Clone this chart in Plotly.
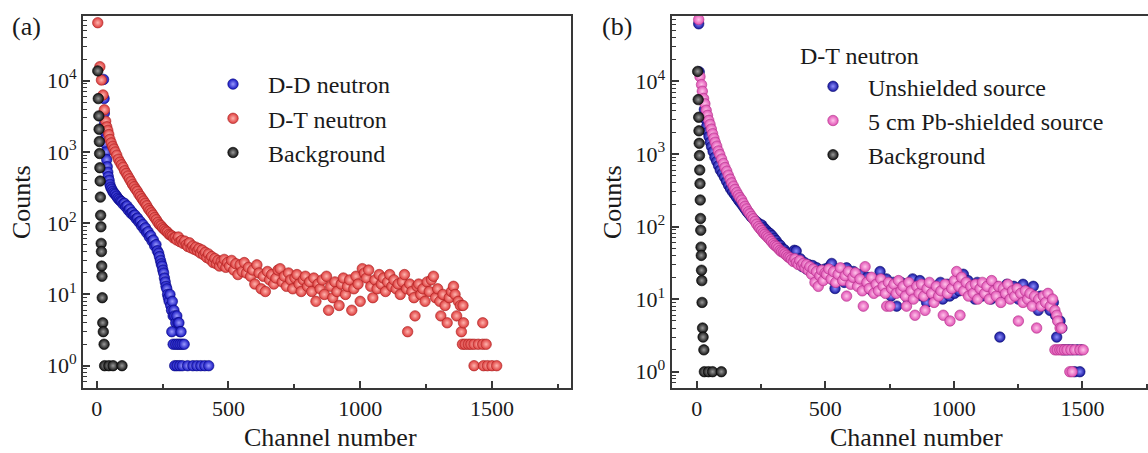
import plotly.graph_objects as go

# ---------------- data ----------------
# Background (same measurement shown in both panels)
bg_ch = [4, 6, 8, 9, 10, 11, 12, 13, 14, 15, 16, 17, 18, 19, 20, 21, 23, 25, 28, 30, 46, 62, 96]
bg_cnt = [13700, 5600, 3200, 2080, 1400, 950, 600, 390, 232, 129, 89, 52, 40, 25, 18, 9, 4, 3, 2, 1, 1, 1, 1]

# Panel (a) D-D neutron
dd_ch = [26, 28, 29, 30, 31, 32, 34, 36, 38, 40, 42, 44, 47, 50, 53, 57, 61, 65, 70, 75,
         80, 85, 90, 95, 100, 105, 110, 115, 120, 125, 130, 135, 140, 145, 150, 155, 160, 165, 170, 175,
         180, 185, 190, 195, 200, 205, 210, 215, 220, 225, 230, 235, 238, 242, 245, 248, 251, 254, 257, 260,
         263, 266, 269, 272, 275, 278, 281, 284, 287, 290, 293, 296, 300, 304, 308, 312, 316, 285, 320,
         290, 300, 308, 316, 324, 332,
         296, 305, 315, 325, 345, 365, 380, 395, 410, 425]
dd_cnt = [10400, 5600, 3500, 2500, 1900, 1500, 1300, 1000, 780, 620, 520, 450, 400, 350, 320, 300, 280, 265, 255, 240,
          225, 215, 205, 200, 185, 190, 170, 175, 152, 158, 138, 142, 128, 130, 115, 118, 104, 106, 92, 96,
          82, 86, 73, 76, 64, 67, 56, 58, 48, 50, 41, 38, 34, 30, 27, 25, 22, 20, 17, 15,
          13, 12, 10, 9, 8, 10, 7, 6, 8, 5, 6, 5, 4, 5, 4, 4, 3, 3, 3,
          2, 2, 2, 2, 2, 2,
          1, 1, 1, 1, 1, 1, 1, 1, 1, 1]

# Panel (a) D-T neutron
dt_ch = [4, 12, 18, 24, 29, 34, 38, 42, 46, 50, 55, 60, 65, 70, 76, 82, 88, 94, 100,
         106, 112, 118, 124, 130, 136, 142, 148, 154, 160, 166, 172, 178, 184, 190, 196, 202, 208, 214, 220,
         226, 232, 238, 244, 250, 256, 262, 268, 274, 280, 286, 292, 298,
         304, 310, 316, 322, 328, 334, 340, 346, 352, 358, 364, 370, 376, 382, 388, 394, 400, 406, 412, 418,
         424, 430, 436, 442, 448, 454, 460, 466, 472, 478, 484, 490, 496,
         504, 512, 520, 528, 536, 544, 552, 560, 568, 576, 584, 592, 600, 608, 616, 624, 632, 640, 648, 656,
         664, 672, 680, 688, 696, 704, 712, 720, 728, 736, 744, 752, 760, 768, 776, 784, 792, 800, 808, 816,
         824, 832, 840, 848, 856, 864, 872, 880, 888, 896, 904, 912, 920, 928, 936, 944, 952, 960, 968, 976,
         984, 992, 1000, 1008, 1016, 1024, 1032, 1040, 1048, 1056, 1064, 1072, 1080, 1088, 1096, 1104, 1112,
         1120, 1128, 1136, 1144, 1152, 1160, 1168, 1176, 1180, 1188, 1196, 1204, 1208, 1216, 1222, 1230, 1238,
         1246, 1254, 1262, 1270, 1278, 1286, 1294, 1302, 1306, 1314, 1322, 1330, 1338, 1346, 1354, 1360, 1366,
         1372, 1380, 1384, 1390, 1392,
         1388, 1398, 1410, 1420, 1432, 1448, 1465, 1478, 1465,
         1432, 1468, 1483, 1500, 1518]
dt_cnt = [65000, 15700, 10200, 6300, 3900, 2700, 2250, 2000, 1750, 1500, 1340, 1200, 1100, 1000, 900, 790, 720, 660, 610,
          545, 500, 460, 420, 385, 350, 325, 300, 280, 255, 238, 220, 205, 190, 176, 160, 150, 140, 130, 120,
          112, 103, 96, 92, 86, 82, 78, 75, 70, 68, 66, 62, 63,
          58, 64, 55, 57, 52, 56, 50, 47, 53, 45, 48, 43, 46, 41, 44, 38, 42, 36, 39, 33,
          37, 31, 34, 28, 32, 27, 30, 25, 29, 26, 31, 24, 28,
          25, 30, 22, 27, 19, 26, 21, 28, 20, 24, 18, 22, 14, 26, 20, 12, 18, 11, 21, 16,
          19, 14, 17, 22, 23, 15, 18, 13, 20, 16, 12, 17, 19, 14, 11, 16, 18, 13, 15, 11,
          17, 8, 14, 12, 16, 10, 18, 6, 13, 9, 15, 11, 7, 14, 17, 10, 13, 16, 6, 12,
          18, 14, 8, 23, 20, 17, 22, 13, 9, 16, 12, 19, 14, 17, 11, 15, 19,
          13, 16, 12, 14, 10, 15, 19, 12, 3, 14, 11, 9, 5, 13, 14, 10, 12,
          8, 15, 11, 16, 18, 9, 12, 8, 5, 10, 7, 4, 9, 11, 13, 10, 5,
          8, 7, 3, 7, 4,
          2, 2, 2, 2, 2, 2, 2, 2, 4,
          1, 1, 1, 1, 1]

# Panel (b) D-T neutron, unshielded source
un_ch = [8, 10, 30, 35, 39, 44, 48, 53, 58, 64, 71, 78, 85, 92, 100, 108, 116, 124, 132, 140,
         148, 156, 164, 172, 180, 188, 196, 204, 212, 220, 228, 236, 244, 253, 261, 269, 277, 285, 293, 301,
         309, 317, 325, 333, 341, 349, 357, 365, 373, 380, 387, 395, 403, 411, 419, 427, 435, 443, 451, 459,
         467, 475, 483, 491, 499,
         508, 516, 525, 532, 538, 547, 556, 565, 574, 583, 592, 601, 610, 619, 628, 637, 646, 655, 664, 673,
         682, 691, 700, 713, 720, 729, 738, 747, 756, 765, 778, 786, 795, 804, 813, 822, 831, 840, 849, 858,
         868, 876, 885, 894, 903, 912, 921, 930, 939, 948, 957, 966, 975, 984, 993, 1003, 1012, 1021, 1029,
         1037, 1046, 1055, 1064, 1073, 1082, 1091, 1100, 1109, 1118, 1127, 1136, 1145, 1154, 1163, 1172, 1179,
         1188, 1197, 1206, 1215, 1224, 1233, 1242, 1251, 1260, 1269, 1278, 1287, 1296, 1305, 1309, 1318, 1328,
         1337, 1346, 1355, 1364, 1374, 1380, 1387, 1395, 1400, 1406, 1413, 1420,
         1425, 1436, 1448, 1462, 1480, 1495, 1470, 1490]
un_cnt = [62000, 13500, 4100, 3000, 2400, 2000, 1740, 1450, 1260, 1080, 900, 790, 690, 600, 540, 480, 420, 370, 330, 300,
          275, 250, 228, 210, 192, 175, 160, 148, 136, 128, 120, 114, 108, 105, 96, 90, 84, 80, 75, 69,
          64, 58, 55, 50, 48, 44, 40, 38, 42, 47, 46, 33, 36, 28, 32, 26, 30, 24, 29, 22,
          27, 20, 25, 19, 26,
          21, 28, 31, 18, 14, 25, 20, 23, 17, 27, 21, 18, 24, 19, 16, 22, 18, 14, 20, 16,
          13, 18, 15, 24, 17, 13, 19, 15, 11, 17, 8, 14, 17, 12, 16, 10, 14, 19, 12, 15,
          18, 11, 14, 9, 16, 13, 11, 15, 12, 17, 10, 13, 16, 11, 14, 12, 17, 13, 16,
          22, 14, 18, 12, 15, 10, 17, 13, 11, 15, 12, 16, 10, 13, 15, 11, 3,
          14, 12, 16, 11, 13, 15, 12, 10, 14, 16, 12, 11, 13, 10, 15, 9, 7,
          11, 9, 10, 8, 7, 9, 9, 6, 3, 5, 5, 4,
          2, 2, 2, 2, 2, 2, 1, 1]

# Panel (b) D-T neutron, 5 cm Pb-shielded source
pb_ch = [8, 13, 19, 22, 27, 32, 37, 42, 47, 52, 57, 62, 67, 72, 78, 84, 90, 97, 104, 110,
         117, 123, 130, 136, 143, 149, 156, 162, 168, 175, 181, 188, 194, 201, 207, 214, 220, 227, 233, 240,
         246, 253, 259, 265, 272, 278, 285, 291, 298, 304, 311, 317, 324, 330, 337, 343, 350, 356, 363, 369,
         376, 382, 388, 395, 401, 408, 414, 421, 427, 434, 440, 447, 453, 460, 466, 473, 479, 486, 492, 499,
         505, 514, 523, 532, 541, 550, 559, 568, 577, 583, 590, 599, 608, 617, 626, 635, 644, 648, 655, 662,
         671, 680, 689, 698, 707, 716, 725, 734, 739, 746, 752, 758, 767, 776, 785, 794, 803, 812, 816, 825,
         834, 843, 849, 856, 865, 874, 883, 888, 896, 905, 914, 923, 932, 941, 950, 959, 966, 975, 985, 992,
         1002, 1011, 1019, 1024, 1030, 1039, 1048, 1057, 1066, 1075, 1084, 1093, 1102, 1111, 1120, 1129, 1138,
         1147, 1156, 1165, 1174, 1183, 1192, 1201, 1210, 1219, 1228, 1237, 1246, 1251, 1260, 1269, 1278, 1287,
         1296, 1305, 1314, 1322, 1330, 1339, 1348, 1357, 1366, 1375, 1384, 1393, 1400, 1404, 1413, 1419,
         1393, 1402, 1412, 1420, 1430, 1440, 1455, 1470, 1490, 1503, 1451, 1460]
pb_cnt = [71000, 11600, 9000, 7300, 5800, 4900, 4000, 3400, 2900, 2550, 2200, 1900, 1650, 1450, 1280, 1100, 980, 850, 740, 650,
          580, 510, 450, 400, 360, 325, 295, 270, 250, 232, 210, 190, 175, 160, 150, 138, 128, 118, 108, 100,
          94, 88, 82, 78, 74, 70, 66, 62, 58, 55, 53, 50, 47, 45, 44, 42, 40, 38, 37, 35,
          33, 36, 32, 30, 34, 29, 31, 27, 30, 25, 28, 22, 26, 17, 24, 15, 21, 25, 18, 23,
          22, 26, 19, 24, 17, 22, 27, 18, 21, 11, 24, 16, 20, 23, 15, 19, 13, 8, 28, 17,
          14, 20, 12, 16, 13, 19, 15, 12, 8, 17, 8, 14, 16, 12, 18, 13, 15, 11, 8, 17,
          13, 10, 6, 15, 12, 16, 11, 7, 14, 17, 12, 9, 15, 11, 13, 6, 16, 12, 5, 14,
          18, 24, 15, 6, 20, 13, 17, 11, 15, 12, 16, 10, 14, 17, 12, 15, 10,
          18, 13, 11, 15, 9, 14, 12, 16, 10, 13, 11, 14, 5, 12, 9, 13, 10,
          12, 8, 11, 4, 10, 8, 11, 9, 12, 8, 10, 7, 6, 5, 4, 4,
          2, 2, 2, 2, 2, 2, 2, 2, 2, 2, 1, 1]

y_tickvals = [1, 10, 100, 1000, 10000]
y_ticktext = ["10<sup>0</sup>", "10<sup>1</sup>", "10<sup>2</sup>", "10<sup>3</sup>", "10<sup>4</sup>"]
x_tickvals = [0, 500, 1000, 1500]
# minor log ticks (2..9 within each decade)
y_minor_vals = [m * d for d in [0.1, 1, 10, 100, 1000, 10000] for m in range(2, 10)]

# ---------------- figure ----------------
W, H = 1148, 453
SERIF = "Liberation Serif, Times New Roman, serif"
INK = "#1a1a1a"
AXC = "#383838"


def px_x(p):
    return p / W


def px_y(p):
    return 1 - p / H


def sphere(color, light, edge):
    return dict(size=10.5, color=color, gradient=dict(type="radial", color=light),
                line=dict(width=0.6, color=edge))


fig = go.Figure()

# panel (a)
fig.add_trace(go.Scatter(x=dd_ch, y=dd_cnt, mode="markers", name="D-D neutron",
                         marker=sphere("#1414c0", "#9a9aff", "#0a0a80"), xaxis="x", yaxis="y", legend="legend"))
fig.add_trace(go.Scatter(x=dt_ch, y=dt_cnt, mode="markers", name="D-T neutron",
                         marker=sphere("#dc3a3a", "#ffb4ae", "#a82020"), xaxis="x", yaxis="y", legend="legend"))
fig.add_trace(go.Scatter(x=bg_ch, y=bg_cnt, mode="markers", name="Background",
                         marker=sphere("#111111", "#9a9a9a", "#000000"), xaxis="x", yaxis="y", legend="legend"))

# panel (b)
fig.add_trace(go.Scatter(x=un_ch, y=un_cnt, mode="markers", name="Unshielded source",
                         marker=sphere("#16169e", "#8e8eff", "#0a0a70"), xaxis="x2", yaxis="y2", legend="legend2"))
fig.add_trace(go.Scatter(x=pb_ch, y=pb_cnt, mode="markers", name="5 cm Pb-shielded source",
                         marker=sphere("#e050b4", "#ffc4ea", "#b03088"), xaxis="x2", yaxis="y2", legend="legend2"))
fig.add_trace(go.Scatter(x=bg_ch, y=bg_cnt, mode="markers", name="Background",
                         marker=sphere("#111111", "#9a9a9a", "#000000"), xaxis="x2", yaxis="y2", legend="legend2"))

axis_common = dict(showline=True, linecolor=AXC, linewidth=2, ticks="inside",
                   tickcolor=AXC, tickwidth=1.5, showgrid=False, zeroline=False,
                   tickfont=dict(family=SERIF, size=22, color=INK))

x_minor = dict(dtick=250, tick0=0, ticks="inside", ticklen=4, tickcolor=AXC, tickwidth=1.5, showgrid=False)
y_minor = dict(tickmode="array", tickvals=y_minor_vals, ticks="inside", ticklen=4,
               tickcolor=AXC, tickwidth=1.2, showgrid=False)

ydom = [px_y(388), px_y(16)]

fig.update_layout(
    width=W, height=H, margin=dict(l=0, r=0, t=0, b=0),
    paper_bgcolor="white", plot_bgcolor="white",
    xaxis=dict(domain=[px_x(83), px_x(571)], range=[-52, 1800], anchor="y", mirror=True,
               tickvals=x_tickvals, ticklen=7, minor=x_minor, **axis_common),
    yaxis=dict(domain=ydom, type="log", range=[-0.313, 4.907], anchor="x", mirror=True,
               tickvals=y_tickvals, ticktext=y_ticktext, ticklen=7, minor=y_minor, **axis_common),
    xaxis2=dict(domain=[px_x(671.7), 1.0], range=[-97, 1755], anchor="y2", mirror=True,
                tickvals=x_tickvals, ticklen=7, minor=x_minor, **axis_common),
    yaxis2=dict(domain=ydom, type="log", range=[-0.2245, 4.9], anchor="x2", mirror=False,
                tickvals=y_tickvals, ticktext=y_ticktext, ticklen=7, minor=y_minor, **axis_common),
    legend=dict(x=px_x(198), y=px_y(62), xanchor="left", yanchor="top", itemwidth=60,
                bgcolor="rgba(0,0,0,0)", font=dict(family=SERIF, size=24, color=INK)),
    legend2=dict(x=px_x(798), y=px_y(33), xanchor="left", yanchor="top", itemwidth=60,
                 bgcolor="rgba(0,0,0,0)", font=dict(family=SERIF, size=24, color=INK),
                 title=dict(text="D-T neutron", font=dict(family=SERIF, size=24, color=INK))),
    showlegend=True,
)


def ann(text, x, y, angle=0, size=26, xanchor="center"):
    return dict(text=text, x=px_x(x), y=px_y(y), xref="paper", yref="paper",
                xanchor=xanchor, yanchor="middle", textangle=angle, showarrow=False,
                font=dict(family=SERIF, size=size, color=INK))


fig.update_layout(annotations=[
    ann("(a)", 10, 27, size=26, xanchor="left"),
    ann("(b)", 600, 27, size=26, xanchor="left"),
    ann("Counts", 21, 202, angle=-90),
    ann("Counts", 612, 202, angle=-90),
    ann("Channel number", 330, 437),
    ann("Channel number", 916, 437),
])

fig.write_html("out.html")
